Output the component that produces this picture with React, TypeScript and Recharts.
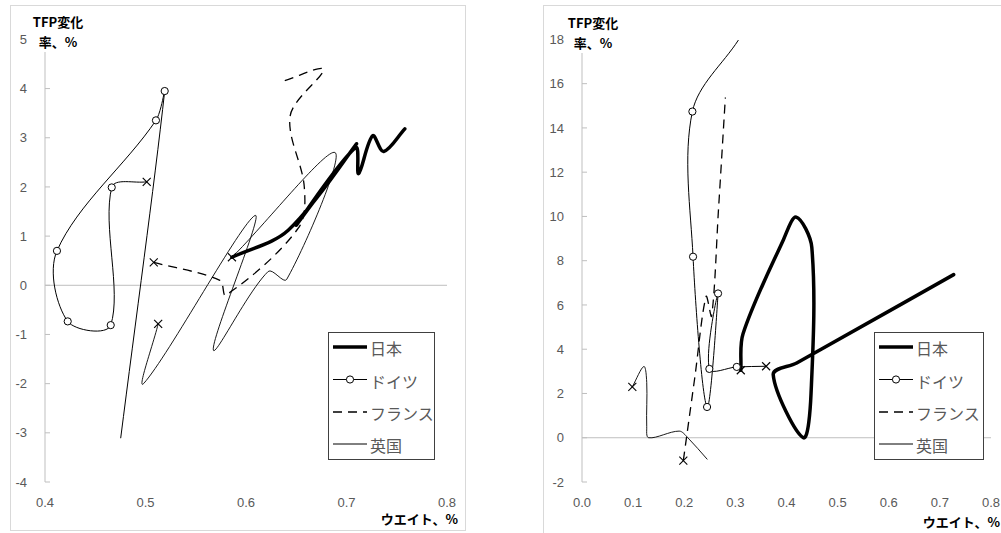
import React from 'react';
import { ScatterChart, Scatter, XAxis, YAxis, ReferenceLine } from 'recharts';

// ---------- data (x = ウエイト %, y = TFP変化率 %) ----------
const leftJapan: number[][] = [
  [0.586, 0.57], [0.642, 1.12], [0.71, 2.88], [0.65, 1.22], [0.709, 2.8], [0.712, 2.27], [0.726, 3.04], [0.737, 2.72], [0.758, 3.18],
];
const leftGermany: number[][] = [
  [0.5012, 2.105], [0.4664, 1.99], [0.4654, -0.81], [0.4226, -0.734], [0.4119, 0.7], [0.5104, 3.354], [0.5191, 3.95], [0.4753, -3.11],
];
const leftFrance: number[][] = [
  [0.5082, 0.466], [0.574, 0.1], [0.58, -0.2], [0.652, 1.16], [0.658, 2.0], [0.644, 3.45], [0.677, 4.39], [0.637, 4.15],
];
const leftUK: number[][] = [
  [0.5126, -0.785], [0.4983, -1.995], [0.609, 1.42], [0.5675, -1.318], [0.622, 0.28], [0.6405, 0.12], [0.6886, 2.7], [0.59, 0.65],
];

const rightJapan: number[][] = [
  [0.3106, 3.05], [0.315, 4.7], [0.394, 8.95], [0.419, 9.97], [0.4495, 8.6], [0.448, 2.0], [0.433, 0.0], [0.374, 2.85], [0.42, 3.38], [0.727, 7.37],
];
const rightGermany: number[][] = [
  [0.3601, 3.23], [0.3027, 3.2], [0.2491, 3.11], [0.2661, 6.52], [0.2446, 1.39], [0.2172, 8.18], [0.2159, 14.74], [0.3059, 17.97],
];
const rightFrance: number[][] = [
  [0.1982, -1.03], [0.2205, 2.7], [0.2427, 6.38], [0.2535, 5.5], [0.2672, 10.4], [0.2804, 15.37],
];
const rightUK: number[][] = [
  [0.0984, 2.3], [0.121, 3.22], [0.1266, 2.5], [0.1266, 0.5], [0.1305, 0.0], [0.19, 0.3], [0.207, 0.0], [0.2452, -0.98],
];

const leftXTicks = [0.4, 0.5, 0.6, 0.7, 0.8];
const leftYTicks = [-4, -3, -2, -1, 0, 1, 2, 3, 4, 5];
const rightXTicks = [0, 0.1, 0.2, 0.3, 0.4, 0.5, 0.6, 0.7, 0.8];
const rightYTicks = [-2, 0, 2, 4, 6, 8, 10, 12, 14, 16, 18];

const seriesNames = ['日本', 'ドイツ', 'フランス', '英国'];

// ---------- helpers ----------
const toRows = (arr: number[][], circles: boolean) =>
  arr.map(([x, y], i) => ({ x, y, m: i === 0 ? 'x' : circles && i < arr.length - 1 ? 'o' : '' }));

const dist = (a: number[], b: number[]) => Math.hypot(a[0] - b[0], a[1] - b[1]);

// Excel-like smoothed scatter line (Bezier through every point)
function excelSmooth(context: any) {
  let pts: number[][] = [];
  return {
    areaStart() {},
    areaEnd() {},
    lineStart() {
      pts = [];
    },
    point(x: number, y: number) {
      pts.push([+x, +y]);
    },
    lineEnd() {
      const n = pts.length;
      if (!n) return;
      context.moveTo(pts[0][0], pts[0][1]);
      for (let i = 0; i < n - 1; i++) {
        const p0 = pts[i > 0 ? i - 1 : i];
        const p1 = pts[i];
        const p2 = pts[i + 1];
        const p3 = pts[i + 2 < n ? i + 2 : i + 1];
        const d01 = dist(p0, p1);
        const d12 = dist(p1, p2);
        const d23 = dist(p2, p3);
        const f1 = d01 + d12 > 0 ? d12 / (3 * (d01 + d12)) : 0;
        const f2 = d12 + d23 > 0 ? d12 / (3 * (d12 + d23)) : 0;
        context.bezierCurveTo(
          p1[0] + (p2[0] - p0[0]) * f1,
          p1[1] + (p2[1] - p0[1]) * f1,
          p2[0] - (p3[0] - p1[0]) * f2,
          p2[1] - (p3[1] - p1[1]) * f2,
          p2[0],
          p2[1]
        );
      }
    },
  };
}

const Marker = (props: any) => {
  const { cx, cy, payload } = props;
  if (cx == null || cy == null) return <g />;
  if (payload && payload.m === 'o') {
    return <circle cx={cx} cy={cy} r={3.6} fill="#fff" stroke="#000" strokeWidth={1} />;
  }
  if (payload && payload.m === 'x') {
    const s = 4;
    return (
      <g stroke="#000" strokeWidth={1.1}>
        <line x1={cx - s} y1={cy - s} x2={cx + s} y2={cy + s} />
        <line x1={cx - s} y1={cy + s} x2={cx + s} y2={cy - s} />
      </g>
    );
  }
  return <g />;
};

const NUM_FONT = "'Liberation Sans', Arial, sans-serif";
const JP_FONT = "'Noto Sans CJK JP', 'Noto Sans', sans-serif";

const YTick = (props: any) => {
  const { x, y, payload } = props;
  return (
    <g>
      <line x1={x + 18} x2={x + 23} y1={y} y2={y} stroke="#bfbfbf" strokeWidth={1} />
      <text x={x} y={y} dy={4.6} textAnchor="end" fill="#595959" fontSize={13} fontFamily={NUM_FONT}>
        {payload.value}
      </text>
    </g>
  );
};

const XTick = (props: any) => {
  const { x, y, payload } = props;
  return (
    <text x={x} y={y} dy={25} textAnchor="middle" fill="#595959" fontSize={13} fontFamily={NUM_FONT}>
      {Number(payload.value).toFixed(1)}
    </text>
  );
};

const LegendBox = ({ left, top, width }: { left: number; top: number; width: number }) => {
  const rows = [15, 47.5, 80, 112];
  return (
    <div
      style={{
        position: 'absolute',
        left,
        top,
        width,
        height: 128,
        border: '1px solid #404040',
        boxSizing: 'border-box',
        background: '#fff',
      }}
    >
      <svg width={width} height={128} style={{ position: 'absolute', left: -1, top: -1 }}>
        <line x1={5} x2={39} y1={rows[0]} y2={rows[0]} stroke="#000" strokeWidth={3.5} />
        <line x1={5} x2={39} y1={rows[1]} y2={rows[1]} stroke="#000" strokeWidth={1} />
        <circle cx={22} cy={rows[1]} r={3.6} fill="#fff" stroke="#000" strokeWidth={1} />
        <line x1={5} x2={39} y1={rows[2]} y2={rows[2]} stroke="#000" strokeWidth={1.3} strokeDasharray="9 6" />
        <line x1={5} x2={39} y1={rows[3]} y2={rows[3]} stroke="#000" strokeWidth={1} />
      </svg>
      {seriesNames.map((n, i) => (
        <div
          key={n}
          style={{
            position: 'absolute',
            left: 41,
            top: rows[i] - 12,
            height: 24,
            lineHeight: '24px',
            fontSize: 16,
            color: '#595959',
            fontFamily: JP_FONT,
            whiteSpace: 'nowrap',
          }}
        >
          {n}
        </div>
      ))}
    </div>
  );
};

const titleStyle: React.CSSProperties = {
  position: 'absolute',
  fontFamily: JP_FONT,
  fontWeight: 700,
  fontSize: 13,
  color: '#000',
  whiteSpace: 'nowrap',
  background: '#fff',
  textAlign: 'center',
  lineHeight: '20px',
};

const lineBase = { stroke: '#000', strokeWidth: 1 };

function Panel(props: {
  width: number;
  height: number;
  margin: any;
  xDomain: number[];
  yDomain: number[];
  xTicks: number[];
  yTicks: number[];
  japan: number[][];
  germany: number[][];
  france: number[][];
  uk: number[][];
}) {
  const { width, height, margin, xDomain, yDomain, xTicks, yTicks, japan, germany, france, uk } = props;
  return (
    <ScatterChart width={width} height={height} margin={margin}>
      <XAxis
        type="number"
        dataKey="x"
        domain={xDomain}
        ticks={xTicks}
        allowDataOverflow
        axisLine={false}
        tickLine={false}
        tickSize={0}
        tickMargin={0}
        height={40}
        tick={<XTick />}
        interval={0}
      />
      <YAxis
        type="number"
        dataKey="y"
        domain={yDomain}
        ticks={yTicks}
        allowDataOverflow
        axisLine={{ stroke: '#bfbfbf', strokeWidth: 1 }}
        tickLine={false}
        tickSize={0}
        tickMargin={18}
        width={30}
        tick={<YTick />}
        interval={0}
      />
      <ReferenceLine y={0} stroke="#bfbfbf" strokeWidth={1} />
      <Scatter
        data={toRows(japan, false)}
        line={{ ...lineBase, strokeWidth: 3.5, strokeLinejoin: 'round', strokeLinecap: 'round' }}
        lineType="joint"
        lineJointType={excelSmooth as any}
        shape={<Marker />}
        fill="#000"
        isAnimationActive={false}
      />
      <Scatter
        data={toRows(germany, true)}
        line={lineBase}
        lineType="joint"
        lineJointType={excelSmooth as any}
        shape={<Marker />}
        fill="#000"
        isAnimationActive={false}
      />
      <Scatter
        data={toRows(france, false)}
        line={{ ...lineBase, strokeWidth: 1.3, strokeDasharray: '9 6' }}
        lineType="joint"
        lineJointType={excelSmooth as any}
        shape={<Marker />}
        fill="#000"
        isAnimationActive={false}
      />
      <Scatter
        data={toRows(uk, false)}
        line={{ ...lineBase, strokeWidth: 0.9 }}
        lineType="joint"
        lineJointType={excelSmooth as any}
        shape={<Marker />}
        fill="#000"
        isAnimationActive={false}
      />
    </ScatterChart>
  );
}

export default function App() {
  return (
    <div
      style={{
        position: 'absolute',
        left: 0,
        top: 0,
        width: 1001,
        height: 533,
        overflow: 'hidden',
        background: '#fff',
      }}
    >
      {/* left panel */}
      <div style={{ position: 'absolute', left: 10, top: 5, width: 456, height: 525 }}>
        <Panel
          width={456}
          height={525}
          margin={{ top: 34.4, right: 19, bottom: 8, left: 5 }}
          xDomain={[0.4, 0.8]}
          yDomain={[-4, 5]}
          xTicks={leftXTicks}
          yTicks={leftYTicks}
          japan={leftJapan}
          germany={leftGermany}
          france={leftFrance}
          uk={leftUK}
        />
      </div>
      <div
        style={{
          position: 'absolute',
          left: 10,
          top: 5,
          width: 456,
          height: 526,
          border: '1px solid #d9d9d9',
          boxSizing: 'border-box',
          pointerEvents: 'none',
        }}
      />
      <div style={{ ...titleStyle, left: 30, top: 12, width: 56 }}>
        TFP変化
        <br />
        率、%
      </div>
      <div style={{ ...titleStyle, left: 370, top: 509, width: 88, textAlign: 'right', background: 'transparent' }}>
        ウエイト、%
      </div>
      <LegendBox left={328} top={332} width={107} />

      {/* right panel */}
      <div style={{ position: 'absolute', left: 543, top: 5, width: 470, height: 528 }}>
        <Panel
          width={470}
          height={528}
          margin={{ top: 34.4, right: 22, bottom: 11, left: 9 }}
          xDomain={[0, 0.8]}
          yDomain={[-2, 18]}
          xTicks={rightXTicks}
          yTicks={rightYTicks}
          japan={rightJapan}
          germany={rightGermany}
          france={rightFrance}
          uk={rightUK}
        />
      </div>
      <div
        style={{
          position: 'absolute',
          left: 543,
          top: 5,
          width: 480,
          height: 540,
          border: '1px solid #d9d9d9',
          boxSizing: 'border-box',
          pointerEvents: 'none',
        }}
      />
      <div style={{ ...titleStyle, left: 565, top: 13, width: 56 }}>
        TFP変化
        <br />
        率、%
      </div>
      <div style={{ ...titleStyle, left: 912, top: 512, width: 88, textAlign: 'right', background: 'transparent' }}>
        ウエイト、%
      </div>
      <LegendBox left={874} top={332} width={110} />
    </div>
  );
}
